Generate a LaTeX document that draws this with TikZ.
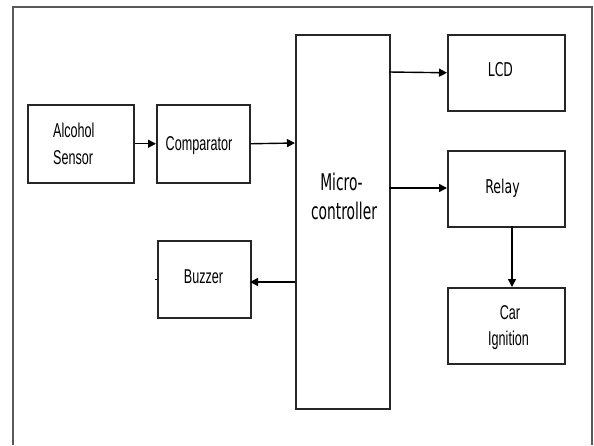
\documentclass[tikz,border=0pt]{standalone}
\usepackage{fontspec}
\usetikzlibrary{arrows.meta}
\newfontfamily\arialf{Liberation Sans}
\newfontfamily\tahf{DejaVu Sans}
\newcommand\nA[1]{\scalebox{0.63}[1]{\arialf\fontsize{20}{20}\selectfont #1}}
\newcommand\nT[3]{\scalebox{#2}[1]{\tahf\fontsize{#1}{#1}\selectfont #3}}
\begin{document}
\begin{tikzpicture}[x=1pt,y=-1pt,
  blk/.style={draw=black!85, line width=1.5pt, inner sep=0pt, anchor=north west},
  txt/.style={inner sep=0pt, anchor=base, text=black},
  arr/.style={draw=black, line width=1.4pt, -{Triangle[length=8pt,width=8pt]}},
  frm/.style={draw=black!65, line width=1.4pt}]
\useasboundingbox (0,0) rectangle (594,445);
\fill[white] (0,0) rectangle (594,445);
% frame
\draw[frm] (13,445) -- (13,7) -- (592,7) -- (592,445);
% boxes
\node[blk, minimum width=106pt, minimum height=78pt] (sen) at (27,104) {};
\node[blk, minimum width=93pt, minimum height=78pt] (cmp) at (156,104) {};
\node[blk, minimum width=94pt, minimum height=374pt] (mcu) at (295,34) {};
\node[blk, minimum width=117pt, minimum height=76pt] (lcd) at (447,34) {};
\node[blk, minimum width=117pt, minimum height=76pt] (rel) at (447,150) {};
\node[blk, minimum width=117pt, minimum height=76pt] (car) at (447,287) {};
\node[blk, minimum width=93pt, minimum height=77pt] (buz) at (157,240) {};
% texts
\node[txt, anchor=base west] (tAlc) at (53,137) {\nA{Alcohol}};
\node[txt, anchor=base west] (tSen) at (53,164) {\nA{Sensor}};
\node[txt] (tCmp) at (199,150) {\nA{Comparator}};
\node[txt] (tBuz) at (203.5,283) {\nA{Buzzer}};
\node[txt] (tCar) at (510,319) {\nA{Car}};
\node[txt] (tIgn) at (508.5,345) {\nA{Ignition}};
\node[txt] (tLcd) at (500.5,76) {\nT{19}{0.65}{LCD}};
\node[txt] (tRel) at (502.5,193) {\nT{19}{0.66}{Relay}};
\node[txt] (tMi) at (341.5,190) {\nT{23}{0.6}{Micro-}};
\node[txt] (tCo) at (344,219) {\nT{23}{0.6}{controller}};
% connectors
\coordinate (c1) at (295,143);
\coordinate (c2) at (389,72);
\coordinate (c3) at (389,188);
\coordinate (c4) at (512,226);
\coordinate (c5) at (512,287);
\coordinate (c6) at (295,282);
\coordinate (c7) at (250,282);
\coordinate (s1) at (155,279);
\coordinate (s2) at (157,279);
\draw[arr] (sen.east) -- (cmp.west);
\draw[arr] (cmp.east) -- (c1);
\draw[arr] (c2) -- (lcd.west);
\draw[arr] (c3) -- (rel.west |- c3);
\draw[arr] (c4) -- (c5);
\draw[arr] (c6) -- (c7);
\draw[line width=1pt] (s1) -- (s2);
\end{tikzpicture}
\end{document}
